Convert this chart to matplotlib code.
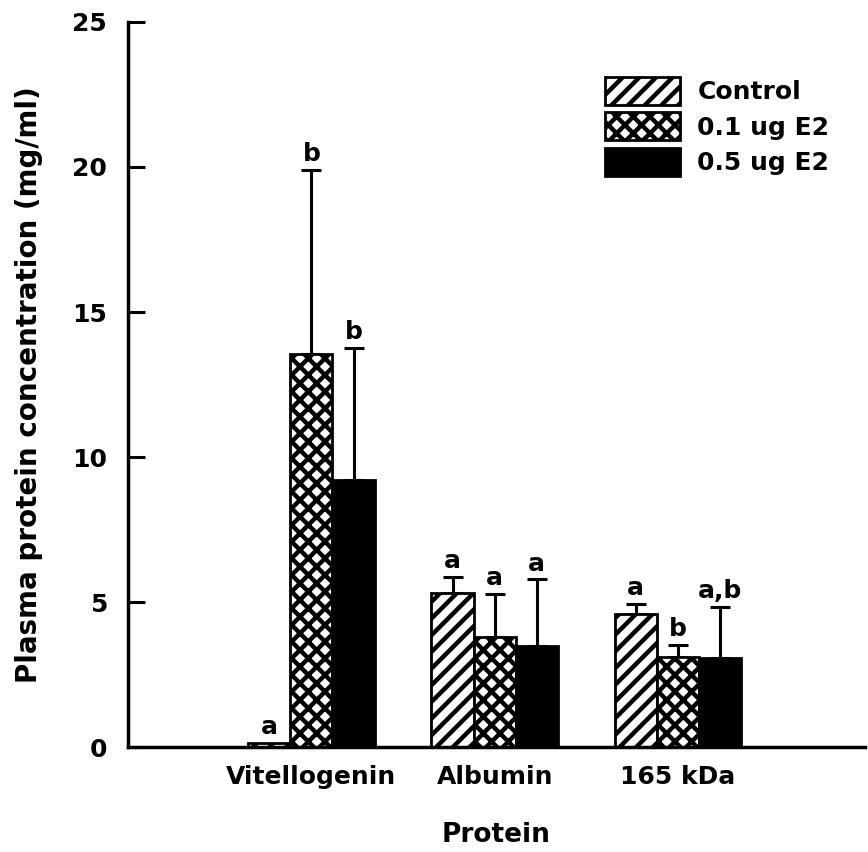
import numpy as np
import matplotlib
matplotlib.use('Agg')
import matplotlib.pyplot as plt

# values (mg/ml)
categories = ['Vitellogenin', 'Albumin', '165 kDa']
groups = ['Control', '0.1 ug E2', '0.5 ug E2']
control = [0.15, 5.32, 4.60]
control_err = [0.0, 0.55, 0.34]
low_e2 = [13.55, 3.78, 3.10]
low_e2_err = [6.35, 1.50, 0.42]
high_e2 = [9.20, 3.47, 3.06]
high_e2_err = [4.56, 2.31, 1.78]
letters = [['a', 'a', 'a'],
           ['b', 'a', 'b'],
           ['b', 'a', 'a,b']]

plt.rcParams['font.family'] = 'DejaVu Sans'
plt.rcParams['font.weight'] = 'bold'
plt.rcParams['hatch.linewidth'] = 3.2
plt.rcParams['hatch.color'] = 'black'

fig = plt.figure(figsize=(8.68, 8.52), dpi=100)
ax = fig.add_axes([0.1475, 0.1232, 0.849, 0.851])

x = np.arange(1, len(categories) + 1)
width = 0.23
series = [(control, control_err, '//', 'white'),
          (low_e2, low_e2_err, 'xx', 'white'),
          (high_e2, high_e2_err, '', 'black')]

for i, (vals, errs, hatch, face) in enumerate(series):
    xpos = x + (i - 1) * width
    ax.bar(xpos, vals, width, color=face, edgecolor='black', hatch=hatch,
           linewidth=2, label=groups[i], zorder=2)
    vals = np.array(vals)
    errs = np.array(errs)
    has_err = errs > 0
    ax.errorbar(xpos[has_err], vals[has_err], yerr=[np.zeros(has_err.sum()), errs[has_err]],
                fmt='none', ecolor='black', elinewidth=2.2, capsize=7, capthick=2.2, zorder=1)
    for j in range(len(categories)):
        ax.text(xpos[j], vals[j] + errs[j] + 0.3, letters[i][j], ha='center', va='baseline',
                fontsize=18, fontweight='bold')

ax.set_xlim(0, 4.02)
ax.set_ylim(0, 25)
ax.set_yticks([0, 5, 10, 15, 20, 25])
ax.set_xticks(x)
ax.set_xticklabels(categories)

for s in ['top', 'right']:
    ax.spines[s].set_visible(False)
for s in ['left', 'bottom']:
    ax.spines[s].set_linewidth(2.5)

ax.tick_params(axis='y', direction='in', length=12, width=2.2, pad=15, labelsize=18)
ax.tick_params(axis='x', length=0, pad=13, labelsize=18)

ax.set_xlabel('Protein', fontsize=19, fontweight='bold', labelpad=24)
ax.set_ylabel('Plasma protein concentration (mg/ml)', fontsize=20, fontweight='bold')
ax.yaxis.set_label_coords(-0.115, 0.5)

ax.legend(loc='upper left', bbox_to_anchor=(0.697, 0.91), bbox_transform=fig.transFigure,
          frameon=False, fontsize=18, handlelength=3.0, handleheight=1.35,
          labelspacing=0.3, handletextpad=0.7, borderpad=0, borderaxespad=0)

fig.savefig('out.png', dpi=100)
